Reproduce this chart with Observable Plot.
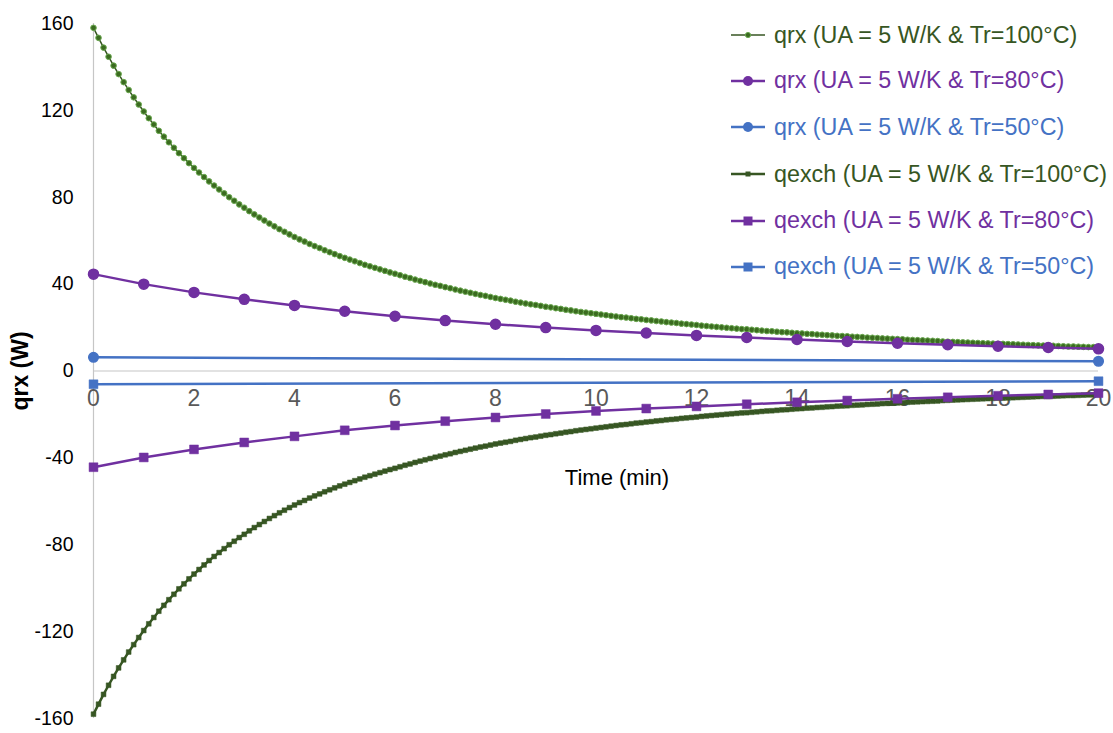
<!DOCTYPE html>
<html>
<head>
<meta charset="utf-8">
<script src="https://cdn.jsdelivr.net/npm/d3@7"></script>
<script src="https://cdn.jsdelivr.net/npm/@observablehq/plot@0.6"></script>
<style>
  html, body { margin: 0; padding: 0; background: #fff; }
  #wrap { position: relative; width: 1113px; height: 733px; font-family: "Liberation Sans", Arial, sans-serif; }
  #legend { position: absolute; left: 0; top: 0; }
  .item { position: absolute; left: 731px; height: 28px; display: flex; align-items: center; font-size: 23.3px; white-space: nowrap; }
  .item svg { margin-right: 9px; }
</style>
</head>
<body>
<div id="wrap"><div id="chart"></div><div id="legend"></div></div>
<script>
// ---- data ----
const seriesNames = [
  "qrx (UA = 5 W/K & Tr=100°C)",
  "qrx (UA = 5 W/K & Tr=80°C)",
  "qrx (UA = 5 W/K & Tr=50°C)",
  "qexch (UA = 5 W/K & Tr=100°C)",
  "qexch (UA = 5 W/K & Tr=80°C)",
  "qexch (UA = 5 W/K & Tr=50°C)"
];
const step100 = 0.1; // Tr=100°C series sampled every 0.1 min
const qrx100 = [
  158.0,153.4,148.9,144.7,140.6,136.7,133.0,129.4,126.0,122.7,
  119.5,116.4,113.5,110.6,107.9,105.3,102.8,100.3,98.0,95.7,
  93.5,91.4,89.3,87.3,85.4,83.6,81.8,80.0,78.4,76.7,
  75.2,73.6,72.1,70.7,69.3,67.9,66.6,65.3,64.1,62.9,
  61.7,60.6,59.6,58.5,57.5,56.6,55.6,54.7,53.8,52.9,
  52.1,51.3,50.5,49.7,48.9,48.2,47.5,46.8,46.1,45.4,
  44.8,44.1,43.4,42.8,42.1,41.5,40.9,40.3,39.7,39.2,
  38.6,38.1,37.5,37.0,36.5,36.0,35.5,35.0,34.6,34.1,
  33.6,33.2,32.8,32.4,31.9,31.5,31.1,30.7,30.4,30.0,
  29.6,29.3,28.9,28.6,28.2,27.9,27.5,27.2,26.9,26.6,
  26.3,26.0,25.7,25.4,25.1,24.8,24.6,24.3,24.0,23.8,
  23.5,23.3,23.0,22.8,22.5,22.3,22.1,21.8,21.6,21.4,
  21.2,20.9,20.7,20.5,20.3,20.1,19.9,19.7,19.5,19.3,
  19.2,19.0,18.8,18.6,18.4,18.3,18.1,17.9,17.8,17.6,
  17.4,17.3,17.1,17.0,16.8,16.7,16.5,16.4,16.2,16.1,
  16.0,15.8,15.7,15.6,15.4,15.3,15.2,15.0,14.9,14.8,
  14.7,14.6,14.4,14.3,14.2,14.1,14.0,13.9,13.8,13.6,
  13.5,13.4,13.3,13.2,13.1,13.0,12.9,12.8,12.7,12.6,
  12.5,12.5,12.4,12.3,12.2,12.1,12.0,11.9,11.8,11.7,
  11.7,11.6,11.5,11.4,11.3,11.3,11.2,11.1,11.0,11.0,
  10.9
];
const qexch100 = [
  -158.0,-153.4,-148.9,-144.7,-140.6,-136.7,-133.0,-129.4,-126.0,-122.7,
  -119.5,-116.4,-113.5,-110.6,-107.9,-105.3,-102.8,-100.3,-98.0,-95.7,
  -93.5,-91.4,-89.3,-87.3,-85.4,-83.6,-81.8,-80.0,-78.4,-76.7,
  -75.2,-73.6,-72.1,-70.7,-69.3,-67.9,-66.6,-65.3,-64.1,-62.9,
  -61.7,-60.6,-59.6,-58.5,-57.5,-56.6,-55.6,-54.7,-53.8,-52.9,
  -52.1,-51.3,-50.5,-49.7,-48.9,-48.2,-47.5,-46.8,-46.1,-45.4,
  -44.8,-44.1,-43.4,-42.8,-42.1,-41.5,-40.9,-40.3,-39.7,-39.2,
  -38.6,-38.1,-37.5,-37.0,-36.5,-36.0,-35.5,-35.0,-34.6,-34.1,
  -33.6,-33.2,-32.8,-32.4,-31.9,-31.5,-31.1,-30.7,-30.4,-30.0,
  -29.6,-29.3,-28.9,-28.6,-28.2,-27.9,-27.5,-27.2,-26.9,-26.6,
  -26.3,-26.0,-25.7,-25.4,-25.1,-24.8,-24.6,-24.3,-24.0,-23.8,
  -23.5,-23.3,-23.0,-22.8,-22.5,-22.3,-22.1,-21.8,-21.6,-21.4,
  -21.2,-20.9,-20.7,-20.5,-20.3,-20.1,-19.9,-19.7,-19.5,-19.3,
  -19.2,-19.0,-18.8,-18.6,-18.4,-18.3,-18.1,-17.9,-17.8,-17.6,
  -17.4,-17.3,-17.1,-17.0,-16.8,-16.7,-16.5,-16.4,-16.2,-16.1,
  -16.0,-15.8,-15.7,-15.6,-15.4,-15.3,-15.2,-15.0,-14.9,-14.8,
  -14.7,-14.6,-14.4,-14.3,-14.2,-14.1,-14.0,-13.9,-13.8,-13.6,
  -13.5,-13.4,-13.3,-13.2,-13.1,-13.0,-12.9,-12.8,-12.7,-12.6,
  -12.5,-12.5,-12.4,-12.3,-12.2,-12.1,-12.0,-11.9,-11.8,-11.7,
  -11.7,-11.6,-11.5,-11.4,-11.3,-11.3,-11.2,-11.1,-11.0,-11.0,
  -10.9
];
const time80 = [0,1,2,3,4,5,6,7,8,9,10,11,12,13,14,15,16,17,18,19,20];
const qrx80 = [44.6,40.0,36.2,33.0,30.2,27.5,25.2,23.2,21.5,20.0,18.7,17.5,16.4,15.4,14.5,13.6,12.8,12.1,11.4,10.8,10.2];
const qexch80 = [-44.3,-39.8,-36.1,-32.9,-30.1,-27.3,-25.1,-23.1,-21.4,-19.8,-18.4,-17.3,-16.3,-15.3,-14.4,-13.6,-12.8,-12.1,-11.4,-10.8,-10.2];
const time50 = [0, 20];
const qrx50 = [6.3, 4.5];
const qexch50 = [-6.1, -4.7];

const xTicks = [0,2,4,6,8,10,12,14,16,18,20];
const yTicks = [-160,-120,-80,-40,0,40,80,120,160];
const xTitle = "Time (min)";
const yTitle = "qrx (W)";

// ---- styles ----
const GREEN = "#375623", GREEN_L = "#6aa84f", PURPLE = "#7030a0", BLUE = "#4472c4";

const rows100q = qrx100.map((v, i) => ({t: i * step100, v}));
const rows100e = qexch100.map((v, i) => ({t: i * step100, v}));
const rows80q = time80.map((t, i) => ({t, v: qrx80[i]}));
const rows80e = time80.map((t, i) => ({t, v: qexch80[i]}));
const rows50q = time50.map((t, i) => ({t, v: qrx50[i]}));
const rows50e = time50.map((t, i) => ({t, v: qexch50[i]}));

const chart = Plot.plot({
  width: 1113,
  height: 733,
  marginLeft: 93,
  marginRight: 15,
  marginTop: 23,
  marginBottom: 15,
  style: {fontFamily: '"Liberation Sans", Arial, sans-serif', fontSize: "19px", color: "#000", background: "#fff"},
  x: {domain: [0, 20], axis: null},
  y: {domain: [-160, 160], axis: null},
  marks: [
    Plot.ruleX([0], {stroke: "#c6c6c6", strokeWidth: 1.2}),
    Plot.ruleY([0], {stroke: "#c6c6c6", strokeWidth: 1.2}),
    Plot.axisY({ticks: yTicks, tickSize: 0, tickPadding: 20, tickFormat: d => String(d), label: null, fontSize: 19.5}),
    Plot.text(xTicks, {x: d => d, y: 0, dy: 28, text: d => String(d), fill: "#595959", fontSize: 23}),
    Plot.text([xTitle], {frameAnchor: "top", dx: 21, dy: 446, text: d => d, fill: "#000", fontSize: 22}),
    Plot.text([yTitle], {frameAnchor: "left", dx: -73, rotate: -90, textAnchor: "middle", text: d => d, fill: "#000", fontSize: 23, fontWeight: "bold"}),
    // qrx 100
    Plot.line(rows100q, {x: "t", y: "v", stroke: GREEN, strokeWidth: 1.5}),
    Plot.dot(rows100q, {x: "t", y: "v", r: 2.8, fill: "#3b6b20", stroke: GREEN_L, strokeWidth: 1}),
    // qrx 80
    Plot.line(rows80q, {x: "t", y: "v", stroke: PURPLE, strokeWidth: 2.5}),
    Plot.dot(rows80q, {x: "t", y: "v", r: 5, fill: PURPLE, stroke: PURPLE}),
    // qrx 50
    Plot.line(rows50q, {x: "t", y: "v", stroke: BLUE, strokeWidth: 2.5}),
    Plot.dot(rows50q, {x: "t", y: "v", r: 4.8, fill: BLUE, stroke: BLUE}),
    // qexch 100
    Plot.line(rows100e, {x: "t", y: "v", stroke: GREEN, strokeWidth: 2.5}),
    Plot.dot(rows100e, {x: "t", y: "v", symbol: "square", r: 2.7, fill: GREEN, stroke: GREEN, strokeWidth: 0.5}),
    // qexch 80
    Plot.line(rows80e, {x: "t", y: "v", stroke: PURPLE, strokeWidth: 2.5}),
    Plot.dot(rows80e, {x: "t", y: "v", symbol: "square", r: 5, fill: PURPLE, stroke: PURPLE, strokeWidth: 0.5}),
    // qexch 50
    Plot.line(rows50e, {x: "t", y: "v", stroke: BLUE, strokeWidth: 2.5}),
    Plot.dot(rows50e, {x: "t", y: "v", symbol: "square", r: 5, fill: BLUE, stroke: BLUE, strokeWidth: 0.5})
  ]
});
document.getElementById("chart").appendChild(chart);

// ---- legend ----
const legendSpec = [
  {color: GREEN, lw: 1.5, marker: "dot"},
  {color: PURPLE, lw: 2.5, marker: "circle"},
  {color: BLUE, lw: 2.5, marker: "circle"},
  {color: GREEN, lw: 2.5, marker: "smallsquare"},
  {color: PURPLE, lw: 2.5, marker: "square"},
  {color: BLUE, lw: 2.5, marker: "square"}
];
const legendTops = [35, 80.7, 127.3, 174, 220.7, 266.7];
const legend = document.getElementById("legend");
seriesNames.forEach((name, i) => {
  const s = legendSpec[i];
  let m = "";
  if (s.marker === "dot") m = `<circle cx="17" cy="6" r="2.6" fill="#3b6b20" stroke="${GREEN_L}" stroke-width="1"/>`;
  if (s.marker === "circle") m = `<circle cx="17" cy="6" r="5" fill="${s.color}"/>`;
  if (s.marker === "smallsquare") m = `<rect x="14.5" y="3.5" width="5" height="5" fill="${s.color}"/>`;
  if (s.marker === "square") m = `<rect x="12.5" y="1.5" width="9" height="9" fill="${s.color}"/>`;
  const div = document.createElement("div");
  div.className = "item";
  div.style.top = (legendTops[i] - 14) + "px";
  div.style.color = s.color;
  div.innerHTML = `<svg width="34" height="12"><line x1="0" y1="6" x2="34" y2="6" stroke="${s.color}" stroke-width="${s.lw}"/>${m}</svg><span>${name}</span>`;
  legend.appendChild(div);
});
</script>
</body>
</html>
